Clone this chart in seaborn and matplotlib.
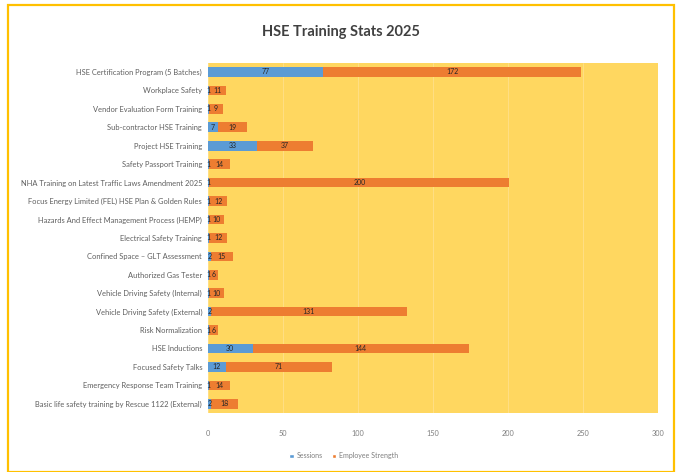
import matplotlib
matplotlib.use("Agg")
import matplotlib.pyplot as plt
import seaborn as sns
import pandas as pd
from matplotlib.patches import Rectangle, Patch

categories = [
    "HSE Certification Program (5 Batches)",
    "Workplace Safety",
    "Vendor Evaluation Form Training",
    "Sub-contractor HSE Training",
    "Project HSE Training",
    "Safety Passport Training",
    "NHA Training on Latest Traffic Laws Amendment 2025",
    "Focus Energy Limited (FEL) HSE Plan & Golden Rules",
    "Hazards And Effect Management Process (HEMP)",
    "Electrical Safety Training",
    "Confined Space \u2013 GLT Assessment",
    "Authorized Gas Tester",
    "Vehicle Driving Safety (Internal)",
    "Vehicle Driving Safety (External)",
    "Risk Normalization",
    "HSE Inductions",
    "Focused Safety Talks",
    "Emergency Response Team Training",
    "Basic life safety training by Rescue 1122 (External)",
]
sessions = [77, 1, 1, 7, 33, 1, 1, 1, 1, 1, 2, 1, 1, 2, 1, 30, 12, 1, 2]
employees = [172, 11, 9, 19, 37, 14, 200, 12, 10, 12, 15, 6, 10, 131, 6, 144, 71, 14, 18]
x_ticks = [0, 50, 100, 150, 200, 250, 300]

df = pd.DataFrame({"Training": categories, "Sessions": sessions,
                   "Employee Strength": employees})
df["Total"] = df["Sessions"] + df["Employee Strength"]

sns.set_theme(style="white")
plt.rcParams["font.family"] = ["Lato", "DejaVu Sans"]

BLUE = "#5B9BD5"
ORANGE = "#ED7D31"
PLOT_BG = "#FFD760"

fig = plt.figure(figsize=(6.81, 4.72), dpi=100)
fig.patch.set_facecolor("white")
ax = fig.add_axes([0.305, 0.125, 0.661, 0.742])
ax.set_facecolor(PLOT_BG)

sns.barplot(data=df, y="Training", x="Total", color=ORANGE, width=0.52,
            orient="h", ax=ax, saturation=1, linewidth=0)
sns.barplot(data=df, y="Training", x="Sessions", color=BLUE, width=0.52,
            orient="h", ax=ax, saturation=1, linewidth=0)

for i, (s, e) in enumerate(zip(sessions, employees)):
    ax.text(s / 2, i, str(s), ha="center", va="center", fontsize=5,
            color="#262626")
    ax.text(s + e / 2, i, str(e), ha="center", va="center", fontsize=5,
            color="#262626")

ax.set_xlim(0, 300)
ax.set_xticks(x_ticks)
ax.set_xticklabels([str(t) for t in x_ticks], fontsize=5.3, color="#7f7f7f")
ax.tick_params(axis="y", labelsize=5.4, colors="#5f5f5f", length=0, pad=4)
ax.tick_params(axis="x", length=0, pad=12)
ax.set_xlabel("")
ax.set_ylabel("")
ax.grid(axis="x", color="#FFE08A", linewidth=0.6)
ax.set_axisbelow(True)
for sp in ax.spines.values():
    sp.set_visible(False)

fig.text(0.5, 0.932, "HSE Training Stats 2025", ha="center", va="center",
         fontsize=10.5, fontweight="bold", color="#404040")

handles = [Patch(facecolor=BLUE, label="Sessions"),
           Patch(facecolor=ORANGE, label="Employee Strength")]
fig.legend(handles=handles, loc="center", bbox_to_anchor=(0.505, 0.034),
           ncol=2, frameon=False, fontsize=5, handlelength=0.7,
           handleheight=0.7, columnspacing=1.2, handletextpad=0.4,
           labelcolor="#7f7f7f")

fig.patches.append(Rectangle((0.012, 0.0), 0.978, 0.989, transform=fig.transFigure,
                             fill=False, edgecolor="#FFC000", linewidth=1.6))

fig.savefig("out.png", dpi=100)
